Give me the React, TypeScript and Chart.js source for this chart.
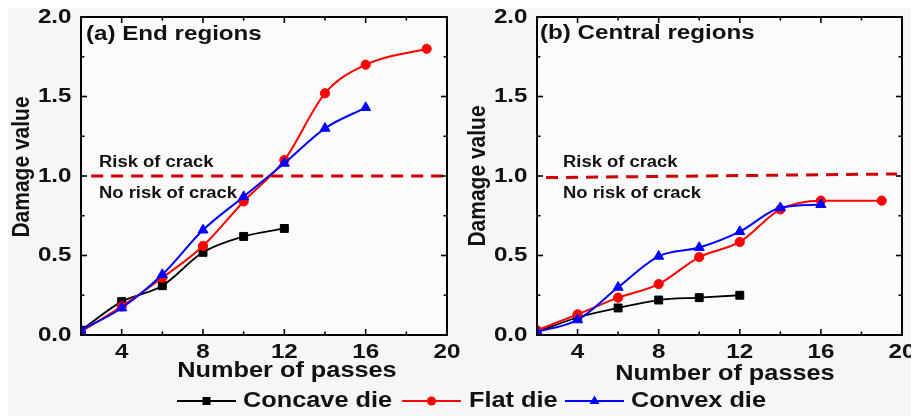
import React, { useEffect, useRef } from "react";
import { Chart, registerables } from "chart.js";

Chart.register(...registerables);

// Passes at which damage was evaluated
const passesConcave = [2, 4, 6, 8, 10, 12];
const passesConvex = [2, 4, 6, 8, 10, 12, 14, 16];
const passesFlat = [2, 4, 6, 8, 10, 12, 14, 16, 19];

// (a) End regions
const endConcave = [0.03, 0.21, 0.31, 0.52, 0.62, 0.67];
const endFlat = [0.02, 0.18, 0.36, 0.56, 0.84, 1.1, 1.52, 1.7, 1.8];
const endConvex = [0.03, 0.17, 0.38, 0.66, 0.87, 1.08, 1.3, 1.43];

// (b) Central regions
const centralConcave = [0.02, 0.11, 0.17, 0.22, 0.235, 0.25];
const centralFlat = [0.03, 0.13, 0.235, 0.32, 0.49, 0.585, 0.79, 0.845, 0.845];
const centralConvex = [0.02, 0.095, 0.3, 0.495, 0.55, 0.65, 0.8, 0.82];

// Crack-risk threshold (damage value = 1)
const endRiskX = [2.5, 20];
const endRiskY = [1.0, 1.0];
const centralRiskX = [2.45, 19.75];
const centralRiskY = [0.99, 1.013];

// Axis ticks
const xMajorTicks = [4, 8, 12, 16, 20];
const xMinorTicks = [6, 10, 14, 18];
const xTickLabels = ["4", "8", "12", "16", "20"];
const yMajorTicks = [0, 0.5, 1, 1.5, 2];
const yMinorTicks = [0.25, 0.75, 1.25, 1.75];
const yTickLabels = ["0.0", "0.5", "1.0", "1.5", "2.0"];

const FONT = '"Liberation Sans", Arial, Helvetica, sans-serif';
const SX = 1.15; // horizontal text stretch
const INK = "#111";

type Panel = {
  left: number;
  width: number;
  height: number;
  padding: { left: number; right: number; top: number; bottom: number };
  concave: number[];
  flat: number[];
  convex: number[];
  riskX: number[];
  riskY: number[];
  label: string;
  labelPos: [number, number];
  riskPos: [number, number];
  noRiskPos: [number, number];
  yTitlePos: [number, number];
  xTitlePos: [number, number];
};

const endPanel: Panel = {
  left: 0,
  width: 452,
  height: 382,
  padding: { left: 73, right: 13, top: 9, bottom: 55 },
  concave: endConcave,
  flat: endFlat,
  convex: endConvex,
  riskX: endRiskX,
  riskY: endRiskY,
  label: "(a) End regions",
  labelPos: [78, 26.5],
  riskPos: [91, 154.5],
  noRiskPos: [91, 186],
  yTitlePos: [14, 159],
  xTitlePos: [279, 363],
};

const centralPanel: Panel = {
  left: 452,
  width: 459,
  height: 382,
  padding: { left: 77, right: 17, top: 9, bottom: 55 },
  concave: centralConcave,
  flat: centralFlat,
  convex: centralConvex,
  riskX: centralRiskX,
  riskY: centralRiskY,
  label: "(b) Central regions",
  labelPos: [80, 25],
  riskPos: [103, 154.5],
  noRiskPos: [103, 186],
  yTitlePos: [18, 168],
  xTitlePos: [265, 366],
};

function drawText(
  ctx: CanvasRenderingContext2D,
  text: string,
  x: number,
  y: number,
  align: CanvasTextAlign,
  size: number,
  rotate = false
) {
  ctx.save();
  ctx.translate(x, y);
  ctx.scale(SX, 1);
  if (rotate) ctx.rotate(-Math.PI / 2);
  ctx.font = `bold ${size}px ${FONT}`;
  ctx.textAlign = align;
  ctx.textBaseline = "middle";
  ctx.fillStyle = INK;
  ctx.fillText(text, 0, 0);
  ctx.restore();
}

function makeFramePlugin(p: Panel) {
  return {
    id: "frameAndText",
    beforeDatasetsDraw(chart: any) {
      const { ctx, chartArea: a } = chart;
      ctx.save();
      ctx.fillStyle = "#fbfbfb";
      ctx.fillRect(a.left, a.top, a.right - a.left, a.bottom - a.top);
      ctx.restore();
    },
    afterDraw(chart: any) {
      const { ctx, chartArea: a, scales } = chart;
      const xs = scales.x;
      const ys = scales.y;
      ctx.save();
      ctx.strokeStyle = "#000";
      ctx.lineWidth = 1.6;
      const tick = (x1: number, y1: number, x2: number, y2: number) => {
        ctx.beginPath();
        ctx.moveTo(x1, y1);
        ctx.lineTo(x2, y2);
        ctx.stroke();
      };
      const major = 6;
      const minor = 3.5;
      xMajorTicks.forEach((v) => {
        const px = xs.getPixelForValue(v);
        tick(px, a.bottom, px, a.bottom - major);
        tick(px, a.top, px, a.top + major);
      });
      xMinorTicks.forEach((v) => {
        const px = xs.getPixelForValue(v);
        tick(px, a.bottom, px, a.bottom - minor);
        tick(px, a.top, px, a.top + minor);
      });
      yMajorTicks.forEach((v) => {
        const py = ys.getPixelForValue(v);
        tick(a.left, py, a.left + major, py);
        tick(a.right, py, a.right - major, py);
      });
      yMinorTicks.forEach((v) => {
        const py = ys.getPixelForValue(v);
        tick(a.left, py, a.left + minor, py);
        tick(a.right, py, a.right - minor, py);
      });
      ctx.lineWidth = 2;
      ctx.strokeRect(a.left, a.top, a.right - a.left, a.bottom - a.top);
      ctx.restore();

      // tick labels
      yMajorTicks.forEach((v, i) => {
        drawText(ctx, yTickLabels[i], a.left - 9.5, ys.getPixelForValue(v), "right", 21);
      });
      xMajorTicks.forEach((v, i) => {
        drawText(ctx, xTickLabels[i], xs.getPixelForValue(v), a.bottom + 17.5, "center", 21);
      });

      // axis titles
      drawText(ctx, "Number of passes", p.xTitlePos[0], p.xTitlePos[1], "center", 22);
      drawText(ctx, "Damage value", p.yTitlePos[0], p.yTitlePos[1], "center", 21, true);

      // panel annotations
      drawText(ctx, p.label, p.labelPos[0], p.labelPos[1], "left", 21);
      drawText(ctx, "Risk of crack", p.riskPos[0], p.riskPos[1], "left", 16);
      drawText(ctx, "No risk of crack", p.noRiskPos[0], p.noRiskPos[1], "left", 16);
    },
  };
}

function toPoints(xs: number[], ys: number[]) {
  return xs.map((x, i) => ({ x, y: ys[i] }));
}

function PanelChart({ p }: { p: Panel }) {
  const ref = useRef<HTMLCanvasElement | null>(null);
  useEffect(() => {
    if (!ref.current) return;
    const chart = new Chart(ref.current, {
      type: "line",
      data: {
        datasets: [
          {
            label: "Convex die",
            data: toPoints(passesConvex, p.convex),
            borderColor: "#0000ff",
            backgroundColor: "#0000ff",
            pointStyle: "triangle",
            pointRadius: 5.8,
            pointBorderWidth: 1,
            borderWidth: 2,
            cubicInterpolationMode: "monotone",
          },
          {
            label: "Flat die",
            data: toPoints(passesFlat, p.flat),
            borderColor: "#ff0000",
            backgroundColor: "#ff0000",
            pointStyle: "circle",
            pointRadius: 4.6,
            pointBorderWidth: 1,
            borderWidth: 2,
            cubicInterpolationMode: "monotone",
          },
          {
            label: "Concave die",
            data: toPoints(passesConcave, p.concave),
            borderColor: "#000000",
            backgroundColor: "#000000",
            pointStyle: "rect",
            pointRadius: 5.6,
            pointBorderWidth: 1,
            borderWidth: 1.8,
            cubicInterpolationMode: "monotone",
          },
          {
            label: "Risk threshold",
            data: toPoints(p.riskX, p.riskY),
            borderColor: "#cc0000",
            borderWidth: 3,
            borderDash: [12, 8],
            pointRadius: 0,
            tension: 0,
          },
        ],
      },
      options: {
        animation: false,
        responsive: false,
        devicePixelRatio: 1,
        layout: { padding: p.padding },
        scales: {
          x: { type: "linear", min: 2, max: 20, display: false },
          y: { type: "linear", min: 0, max: 2, display: false },
        },
        plugins: {
          legend: { display: false },
          tooltip: { enabled: false },
        },
        events: [],
      },
      plugins: [makeFramePlugin(p)],
    } as any);
    return () => chart.destroy();
  }, [p]);
  return (
    <canvas
      ref={ref}
      width={p.width}
      height={p.height}
      style={{ position: "absolute", left: p.left, top: 0, width: p.width, height: p.height }}
    />
  );
}

type LegendItem = {
  name: string;
  color: string;
  marker: "rect" | "circle" | "triangle";
  lineX: number;
  textX: number;
};

const legendItems: LegendItem[] = [
  { name: "Concave die", color: "#000000", marker: "rect", lineX: 169, textX: 235 },
  { name: "Flat die", color: "#ff0000", marker: "circle", lineX: 394, textX: 461 },
  { name: "Convex die", color: "#0000ff", marker: "triangle", lineX: 557, textX: 623 },
];

function LegendSymbol({ item }: { item: LegendItem }) {
  const w = 59;
  const cy = 8;
  const cx = w / 2;
  let mark: React.ReactNode = null;
  if (item.marker === "rect") mark = <rect x={cx - 4} y={cy - 4} width={8} height={8} fill={item.color} />;
  if (item.marker === "circle") mark = <circle cx={cx} cy={cy} r={4.6} fill={item.color} />;
  if (item.marker === "triangle")
    mark = <polygon points={`${cx},${cy - 5.5} ${cx + 5},${cy + 3} ${cx - 5},${cy + 3}`} fill={item.color} />;
  return (
    <svg
      width={w}
      height={16}
      style={{ position: "absolute", left: item.lineX, top: 385 }}
    >
      <line x1={0} y1={cy} x2={w} y2={cy} stroke={item.color} strokeWidth={2} />
      {mark}
    </svg>
  );
}

export default function App() {
  return (
    <div
      style={{
        position: "relative",
        width: 911,
        height: 408,
        background: "#f6f6f6",
        overflow: "hidden",
      }}
    >
      <PanelChart p={endPanel} />
      <PanelChart p={centralPanel} />
      {legendItems.map((item) => (
        <React.Fragment key={item.name}>
          <LegendSymbol item={item} />
          <span
            style={{
              position: "absolute",
              left: item.textX,
              top: 381,
              font: `bold 22px ${FONT}`,
              lineHeight: "22px",
              color: INK,
              whiteSpace: "nowrap",
              transform: `scaleX(${SX})`,
              transformOrigin: "left center",
            }}
          >
            {item.name}
          </span>
        </React.Fragment>
      ))}
    </div>
  );
}
